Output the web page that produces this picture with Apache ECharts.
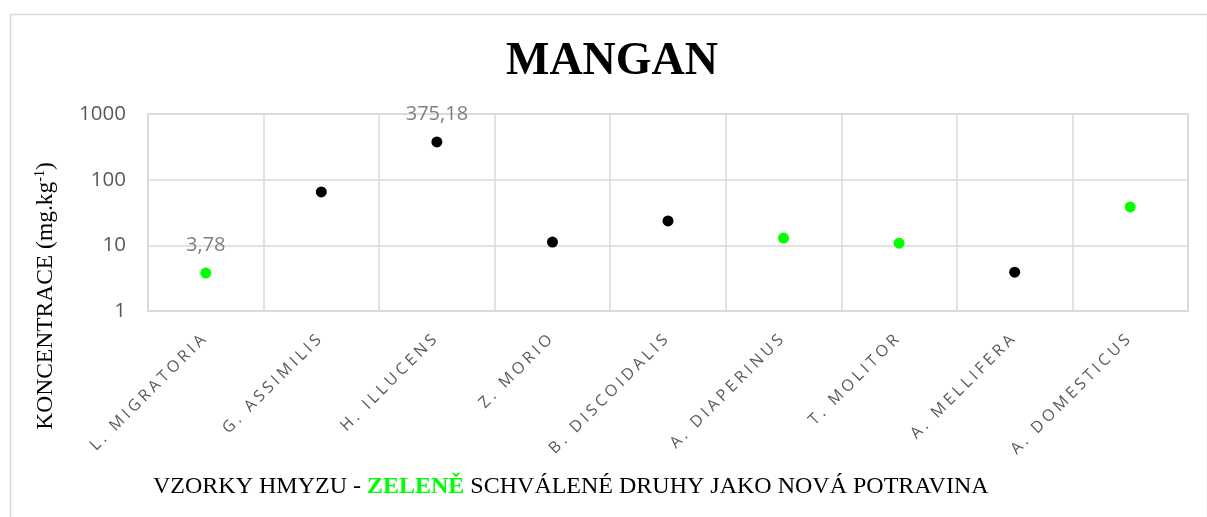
<!DOCTYPE html>
<html>
<head>
<meta charset="utf-8">
<title>Mangan</title>
<script src="https://cdn.jsdelivr.net/npm/echarts@6/dist/echarts.min.js"></script>
<style>
  html, body { margin: 0; padding: 0; background: #fff; }
  #chart { width: 1207px; height: 517px; }
</style>
</head>
<body>
<div id="chart"></div>
<script>
// druhy hmyzu
var categories = ['L. MIGRATORIA', 'G. ASSIMILIS', 'H. ILLUCENS', 'Z. MORIO', 'B. DISCOIDALIS',
  'A. DIAPERINUS', 'T. MOLITOR', 'A. MELLIFERA', 'A. DOMESTICUS'];
// koncentrace mangan (mg/kg)
var values = [3.78, 65, 375.18, 11.2, 23.5, 12.9, 10.8, 3.9, 38.5];
// schvalene druhy jako nova potravina (zelene)
var approved = [true, false, false, false, false, true, true, false, true];
// ktere body maji popisek
var labelled = [true, false, true, false, false, false, false, false, false];
var yTicks = [1, 10, 100, 1000];

var GREEN = '#00ff00';
var BLACK = '#000000';

var chart = echarts.init(document.getElementById('chart'));

var seriesData = values.map(function (v, i) {
  return {
    value: v,
    itemStyle: { color: approved[i] ? GREEN : BLACK, opacity: 1 },
    label: { show: labelled[i] }
  };
});

// prolozeni pismen (letter spacing) pres rich text
function spaced(str) {
  return str.split('').map(function (ch) { return '{c|' + ch + '}'; }).join('');
}

var option = {
  backgroundColor: '#ffffff',
  animation: false,
  title: {
    text: 'MANGAN',
    left: 607,
    textAlign: 'center',
    top: 34,
    textStyle: {
      fontFamily: 'Liberation Serif',
      fontWeight: 'bold',
      fontSize: 46,
      color: '#000'
    }
  },
  grid: {
    left: 148,
    top: 114,
    right: 19,
    bottom: 206,
    show: true,
    borderColor: '#d9d9d9',
    borderWidth: 1.5
  },
  xAxis: {
    type: 'category',
    data: categories,
    boundaryGap: true,
    axisLine: { show: false },
    axisTick: { show: false },
    splitLine: { show: true, interval: 0, lineStyle: { color: '#d9d9d9', width: 1.5 } },
    axisLabel: {
      interval: 0,
      rotate: 45,
      margin: 24,
      fontSize: 16,
      formatter: function (v) { return spaced(v); },
      rich: {
        c: {
          fontFamily: 'Open Sans',
          fontSize: 16,
          color: '#595959',
          padding: [0, 3.6, 0, 0]
        }
      }
    }
  },
  yAxis: {
    type: 'log',
    logBase: 10,
    min: yTicks[0],
    max: yTicks[yTicks.length - 1],
    axisLine: { show: false },
    axisTick: { show: false },
    splitLine: { lineStyle: { color: '#d9d9d9', width: 1.5 } },
    axisLabel: {
      margin: 22,
      fontFamily: 'Open Sans',
      fontSize: 20.5,
      color: '#595959',
      formatter: function (v) { return String(v); }
    }
  },
  series: [{
    type: 'scatter',
    symbol: 'circle',
    symbolSize: 11,
    data: seriesData,
    label: {
      position: 'top',
      distance: 12,
      fontFamily: 'Open Sans',
      fontSize: 20,
      color: '#7f7f7f',
      formatter: function (p) {
        return String(p.value).replace('.', ',');
      }
    }
  }],
  graphic: [
    {
      type: 'rect',
      left: 8,
      top: 12,
      shape: { width: 1197, height: 520 },
      style: { fill: 'none', stroke: '#d9d9d9', lineWidth: 1.5 },
      silent: true
    },
    {
      type: 'text',
      x: 46,
      y: 296,
      rotation: Math.PI / 2,
      style: {
        text: '{n|KONCENTRACE (mg.kg}{s|-1}{n|)}',
        align: 'center',
        verticalAlign: 'middle',
        rich: {
          n: { fontFamily: 'Liberation Serif', fontSize: 23.5, lineHeight: 26, fill: '#000' },
          s: { fontFamily: 'Liberation Serif', fontSize: 14, lineHeight: 26, verticalAlign: 'top', fill: '#000' }
        }
      }
    },
    {
      type: 'text',
      x: 153,
      y: 487,
      style: {
        text: '{n|VZORKY HMYZU - }{g|ZELENĚ}{n| SCHVÁLENÉ DRUHY JAKO NOVÁ POTRAVINA}',
        verticalAlign: 'middle',
        rich: {
          n: { fontFamily: 'Liberation Serif', fontSize: 24, fill: '#000' },
          g: { fontFamily: 'Liberation Serif', fontSize: 24, fontWeight: 'bold', fill: GREEN }
        }
      }
    }
  ]
};

chart.setOption(option);
</script>
</body>
</html>
